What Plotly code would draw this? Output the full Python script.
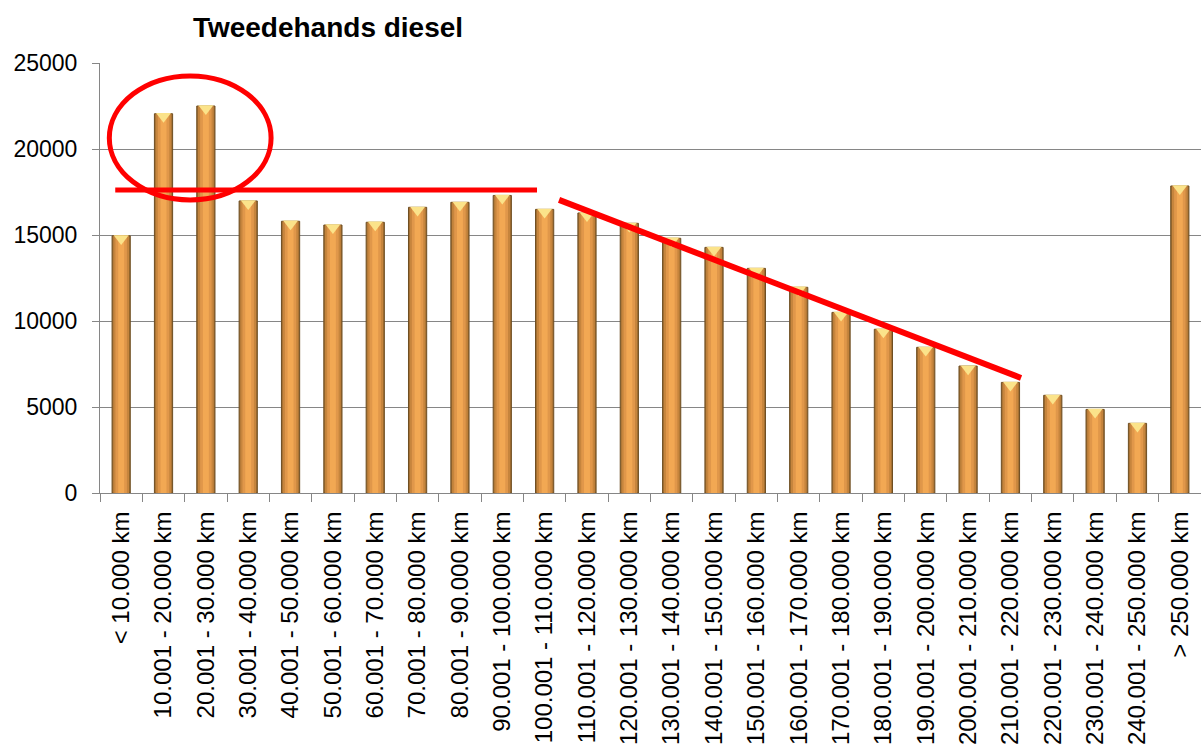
import plotly.graph_objects as go

categories = [
    "< 10.000 km", "10.001 - 20.000 km", "20.001 - 30.000 km", "30.001 - 40.000 km",
    "40.001 - 50.000 km", "50.001 - 60.000 km", "60.001 - 70.000 km", "70.001 - 80.000 km",
    "80.001 - 90.000 km", "90.001 - 100.000 km", "100.001 - 110.000 km", "110.001 - 120.000 km",
    "120.001 - 130.000 km", "130.001 - 140.000 km", "140.001 - 150.000 km", "150.001 - 160.000 km",
    "160.001 - 170.000 km", "170.001 - 180.000 km", "180.001 - 190.000 km", "190.001 - 200.000 km",
    "200.001 - 210.000 km", "210.001 - 220.000 km", "220.001 - 230.000 km", "230.001 - 240.000 km",
    "240.001 - 250.000 km", "> 250.000 km",
]
prices = [
    14950, 22050, 22500, 16980, 15800, 15580, 15740, 16610, 16900, 17300,
    16490, 16280, 15680, 14810, 14280, 13060, 11960, 10500, 9520, 8470,
    7380, 6430, 5680, 4860, 4050, 17850,
]
y_ticks = [0, 5000, 10000, 15000, 20000, 25000]

# highlight marks (category index, price)
plateau_line = dict(x0=-0.14, x1=9.82, y=17620)
decline_line = dict(x0=10.34, y0=17040, x1=21.25, y1=6690)
peak_ellipse = dict(x0=-0.28, x1=3.54, y0=17040, y1=24250)

fig = go.Figure()

# cylinder-like shading: overlaid bars of decreasing width and lighter tone
shades = [
    (0.43, "#9C6B30", "#6E4E22"),
    (0.37, "#C6853D", None),
    (0.27, "#E0974A", None),
    (0.14, "#F2A853", None),
]
for w, col, line in shades:
    fig.add_trace(go.Bar(
        x=categories, y=prices, width=w,
        marker=dict(color=col,
                    line=dict(color=line or col, width=1 if line else 0)),
        hoverinfo="skip" if line is None else None,
        showlegend=False,
    ))

# light bevel cap on top of each bar
fig.add_trace(go.Scatter(
    x=categories, y=[p - 150 for p in prices], mode="markers",
    marker=dict(symbol="triangle-down", size=13, color="#FBE38A",
                line=dict(width=0)),
    showlegend=False, hoverinfo="skip",
))

red = "#FF0000"
fig.add_shape(type="line", xref="x", yref="y",
              x0=plateau_line["x0"], x1=plateau_line["x1"],
              y0=plateau_line["y"], y1=plateau_line["y"],
              line=dict(color=red, width=5))
fig.add_shape(type="line", xref="x", yref="y",
              x0=decline_line["x0"], y0=decline_line["y0"],
              x1=decline_line["x1"], y1=decline_line["y1"],
              line=dict(color=red, width=6))
fig.add_shape(type="circle", xref="x", yref="y",
              x0=peak_ellipse["x0"], x1=peak_ellipse["x1"],
              y0=peak_ellipse["y0"], y1=peak_ellipse["y1"],
              line=dict(color=red, width=5))

fig.update_layout(
    width=1201, height=754,
    margin=dict(l=100, r=0, t=63, b=261, pad=0, autoexpand=False),
    paper_bgcolor="white", plot_bgcolor="white",
    barmode="overlay",
    font=dict(family="Liberation Sans, Arial, sans-serif", color="black"),
    title=dict(text="<b>Tweedehands diesel</b>", x=328 / 1201, xanchor="center",
               y=1 - 27 / 754, yanchor="middle",
               font=dict(size=28, family="Liberation Sans, Arial, sans-serif")),
)
fig.update_xaxes(
    type="category", tickangle=-90, tickson="boundaries",
    ticks="outside", ticklen=8, tickcolor="#868686",
    showline=True, linecolor="#868686", linewidth=1,
    showgrid=False, tickfont=dict(size=24), ticklabelstandoff=8,
    automargin=False,
    range=[-0.5, len(categories) - 0.5],
)
fig.update_yaxes(
    range=[0, 25000], tickvals=y_ticks, ticktext=[str(v) for v in y_ticks],
    ticks="outside", ticklen=7, tickcolor="#868686",
    showline=True, linecolor="#868686", linewidth=1,
    showgrid=True, gridcolor="#868686", gridwidth=1,
    zeroline=False, tickfont=dict(size=23), ticklabelstandoff=10,
    automargin=False,
)

fig.write_html("out.html")
